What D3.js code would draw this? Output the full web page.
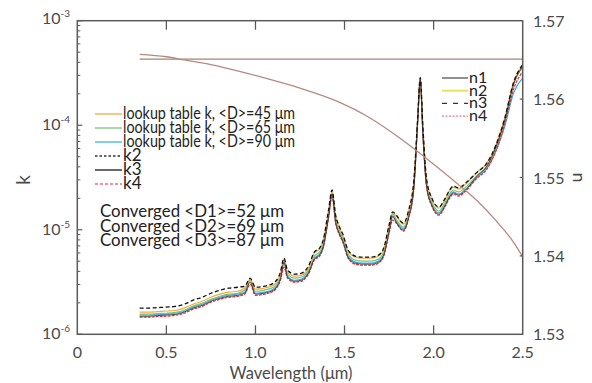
<!DOCTYPE html>
<html>
<head>
<meta charset="utf-8">
<script src="https://cdn.jsdelivr.net/npm/d3@7"></script>
<style>
  html, body { margin: 0; padding: 0; background: #fff; }
  svg { display: block; font-family: Lato, "Open Sans", sans-serif; }
</style>
</head>
<body>
<svg id="chart" width="592" height="383"></svg>
<script>
// wavelength grid of the k spectra (µm)
const wavelength = [0.35, 0.40, 0.45, 0.50, 0.55, 0.60, 0.65, 0.70, 0.75, 0.80, 0.85, 0.90,
  0.94, 0.97, 1.00, 1.05, 1.10, 1.14, 1.16, 1.18, 1.22, 1.26, 1.30,
  1.33, 1.36, 1.38, 1.41, 1.43, 1.45, 1.47, 1.49, 1.52, 1.56, 1.60, 1.65, 1.69, 1.72, 1.75, 1.77, 1.79,
  1.83, 1.86, 1.89, 1.91, 1.925, 1.94, 1.96, 1.99, 2.03, 2.06, 2.09, 2.11, 2.14, 2.18,
  2.24, 2.30, 2.35, 2.40, 2.45, 2.50];

// k values, in units of 1e-6
const kLookup45 = [1.63, 1.63, 1.65, 1.67, 1.69, 1.78, 1.94, 2.07, 2.26, 2.42, 2.53, 2.58,
  2.77, 3.36, 2.70, 2.77, 2.95, 3.76, 5.23, 3.93, 3.60, 3.68, 4.39,
  5.98, 6.53, 7.78, 15.1, 23.5, 13.5, 10.6, 8.90, 6.25, 5.48, 5.35, 5.35, 5.59, 6.53, 10.9, 14.5, 13.5,
  11.3, 15.1, 30.3, 110, 279, 93, 30.3, 19.7, 16.1, 18.9, 23.5, 25.6, 24.5, 27.4,
  35.0, 43.6, 64.9, 118, 261, 379];
const kLookup65 = [1.56, 1.56, 1.58, 1.59, 1.62, 1.70, 1.86, 1.98, 2.16, 2.31, 2.42, 2.47,
  2.65, 3.36, 2.58, 2.65, 2.82, 3.60, 5.12, 3.76, 3.44, 3.53, 4.20,
  5.60, 6.12, 7.29, 14.1, 23.0, 12.6, 9.89, 8.34, 5.85, 5.13, 5.01, 5.01, 5.24, 6.12, 10.2, 14.2, 12.6,
  10.6, 14.1, 28.4, 108, 273, 87, 28.4, 18.4, 15.1, 17.7, 22.0, 24.0, 23.0, 25.6,
  32.8, 40.8, 60.7, 113, 250, 363];
const kLookup90 = [1.53, 1.53, 1.54, 1.56, 1.59, 1.66, 1.82, 1.94, 2.12, 2.26, 2.37, 2.42,
  2.53, 3.29, 2.47, 2.53, 2.70, 3.44, 4.90, 3.60, 3.29, 3.37, 4.02,
  5.35, 5.85, 6.97, 13.5, 22.0, 12.1, 9.46, 7.97, 5.60, 4.91, 4.79, 4.79, 5.01, 5.85, 9.72, 13.3, 12.1,
  10.2, 13.5, 27.2, 106, 267, 83, 27.2, 17.6, 14.5, 16.9, 21.0, 23.0, 22.0, 24.5,
  31.4, 39.1, 56.9, 98.9, 205, 284];
const k2 = [1.78, 1.78, 1.80, 1.82, 1.85, 1.94, 2.12, 2.26, 2.47, 2.64, 2.76, 2.82,
  2.89, 3.44, 2.82, 2.89, 3.08, 3.93, 5.35, 4.11, 3.76, 3.85, 4.59,
  6.11, 6.68, 7.96, 15.4, 24.0, 13.8, 10.8, 9.10, 6.39, 5.60, 5.47, 5.47, 5.72, 6.68, 11.1, 14.8, 13.8,
  11.6, 15.4, 31, 113, 285, 95, 31, 20.1, 16.5, 19.3, 24.0, 26.2, 25.1, 28.0,
  35.0, 43.6, 64.9, 118, 261, 379];
const k3 = [1.49, 1.49, 1.51, 1.53, 1.55, 1.63, 1.78, 1.89, 2.07, 2.21, 2.31, 2.36,
  2.48, 3.15, 2.42, 2.48, 2.64, 3.37, 4.90, 3.52, 3.22, 3.30, 3.93,
  5.24, 5.72, 6.82, 13.2, 22.0, 11.8, 9.26, 7.80, 5.48, 4.80, 4.69, 4.69, 4.90, 5.72, 9.51, 13.6, 11.8,
  9.94, 13.2, 26.6, 104, 273, 81, 26.6, 17.2, 14.1, 16.5, 20.6, 22.5, 21.5, 24.0,
  32.1, 40.8, 62.1, 113, 250, 363];
const k4 = [1.46, 1.46, 1.48, 1.49, 1.52, 1.59, 1.74, 1.85, 2.03, 2.16, 2.26, 2.31,
  2.42, 3.01, 2.36, 2.42, 2.58, 3.29, 4.39, 3.44, 3.15, 3.23, 3.85,
  5.12, 5.60, 6.67, 12.9, 20.6, 11.6, 9.05, 7.63, 5.35, 4.69, 4.58, 4.58, 4.79, 5.60, 9.30, 12.4, 11.6,
  9.72, 12.9, 26.0, 104, 273, 79.6, 26.0, 16.8, 13.8, 16.2, 20.1, 22.0, 21.0, 23.5,
  30.7, 38.2, 56.9, 103, 224, 325];

// real index n
const nWave = [0.35, 0.50, 0.60, 0.75, 0.90, 1.05, 1.25, 1.45, 1.65, 1.80, 2.00, 2.15, 2.25, 2.35, 2.45, 2.50];
const nConverged = [1.5657, 1.5654, 1.5650, 1.5644, 1.5636, 1.5627, 1.5614, 1.5598, 1.5575, 1.5552,
  1.5517, 1.5489, 1.5469, 1.5445, 1.5417, 1.5399];
const nStartWave = [0.35, 2.50];
const nStart = [1.5651, 1.5651];

const xTicks = [0, 0.5, 1.0, 1.5, 2.0, 2.5];
const kDecades = [1e-6, 1e-5, 1e-4, 1e-3];
const kDecadeLabels = ['-6', '-5', '-4', '-3'];
const nTicks = [1.53, 1.54, 1.55, 1.56, 1.57];

const kLegend = ['lookup table k, <D>=45 \u03bcm', 'lookup table k, <D>=65 \u03bcm',
  'lookup table k, <D>=90 \u03bcm', 'k2', 'k3', 'k4'];
const convergedLabels = ['Converged <D1>=52 \u03bcm', 'Converged <D2>=69 \u03bcm', 'Converged <D3>=87 \u03bcm'];
const nLegend = ['n1', 'n2', 'n3', 'n4'];

const svg = d3.select('#chart');
const plotLeft = 77.3, plotRight = 522.7, plotTop = 20.7, plotBottom = 334.3;
const axisColor = '#5a5a5a';
const textColor = '#4a4a4a';

const x = d3.scaleLinear().domain([0, 2.5]).range([plotLeft, plotRight]);
const yK = d3.scaleLog().domain([1e-6, 1e-3]).range([plotBottom, plotTop]);
const yN = d3.scaleLinear().domain([1.53, 1.57]).range([plotBottom, plotTop]);

// k series styles (draw order: back to front)
const kSeries = [
  { values: kLookup90, color: '#36b3e6', width: 1.2 },
  { values: kLookup65, color: '#78c47a', width: 1.2 },
  { values: kLookup45, color: '#f2ab45', width: 1.2 },
  { values: k4, color: '#e4283c', width: 1.2, dash: '3,1' },
  { values: k3, color: '#3a3a3a', width: 0.9 },
  { values: k2, color: '#111', width: 1.3, dash: '4,2.5' }
];

const kLine = d3.line()
  .x(d => x(d[0]))
  .y(d => yK(d[1] * 1e-6))
  .curve(d3.curveMonotoneX);

kSeries.forEach(s => {
  svg.append('path')
    .datum(wavelength.map((w, i) => [w, s.values[i]]))
    .attr('d', kLine)
    .attr('fill', 'none')
    .attr('stroke', s.color)
    .attr('stroke-width', s.width)
    .attr('stroke-dasharray', s.dash || null);
});

// n curves
const nLine = d3.line()
  .x(d => x(d[0]))
  .y(d => yN(d[1]))
  .curve(d3.curveMonotoneX);

svg.append('path')
  .datum(nStartWave.map((w, i) => [w, nStart[i]]))
  .attr('d', nLine)
  .attr('fill', 'none')
  .attr('stroke', '#a68474')
  .attr('stroke-width', 1.4);

svg.append('path')
  .datum(nWave.map((w, i) => [w, nConverged[i]]))
  .attr('d', nLine)
  .attr('fill', 'none')
  .attr('stroke', '#b58a82')
  .attr('stroke-width', 1.3);

// frame
svg.append('rect')
  .attr('x', plotLeft).attr('y', plotTop)
  .attr('width', plotRight - plotLeft).attr('height', plotBottom - plotTop)
  .attr('fill', 'none')
  .attr('stroke', axisColor)
  .attr('stroke-width', 1.5);

// x ticks, inward on top and bottom
xTicks.slice(1, -1).forEach(t => {
  svg.append('line').attr('x1', x(t)).attr('x2', x(t)).attr('y1', plotBottom).attr('y2', plotBottom - 9)
    .attr('stroke', axisColor).attr('stroke-width', 1.3);
  svg.append('line').attr('x1', x(t)).attr('x2', x(t)).attr('y1', plotTop).attr('y2', plotTop + 9)
    .attr('stroke', axisColor).attr('stroke-width', 1.3);
});

svg.append('g').selectAll('text')
  .data(xTicks)
  .enter().append('text')
  .attr('x', d => x(d))
  .attr('y', 358)
  .attr('text-anchor', 'middle')
  .attr('font-size', 16)
  .attr('fill', textColor)
  .text(d => d === 0 ? '0' : d3.format('.1f')(d));

svg.append('text')
  .attr('x', 291).attr('y', 379)
  .attr('text-anchor', 'middle')
  .attr('font-size', 16.5)
  .attr('fill', textColor)
  .text('Wavelength (\u03bcm)');

// left log axis: major + minor ticks
kDecades.forEach((d, i) => {
  svg.append('line').attr('x1', plotLeft).attr('x2', plotLeft + 5).attr('y1', yK(d)).attr('y2', yK(d))
    .attr('stroke', axisColor).attr('stroke-width', 1.2);
  if (i < kDecades.length - 1) {
    for (let m = 2; m <= 9; m++) {
      svg.append('line').attr('x1', plotLeft).attr('x2', plotLeft + 3)
        .attr('y1', yK(d * m)).attr('y2', yK(d * m))
        .attr('stroke', axisColor).attr('stroke-width', 1);
    }
  }
  const lbl = svg.append('text')
    .attr('x', 70).attr('y', yK(d) + (i === 3 ? 3 : 5))
    .attr('text-anchor', 'end')
    .attr('font-size', 16)
    .attr('fill', textColor);
  lbl.append('tspan').text('10');
  lbl.append('tspan').attr('font-size', 10).attr('dy', -7).text(kDecadeLabels[i]);
});

svg.append('text')
  .attr('transform', `translate(30,${yK(3e-5)}) rotate(-90)`)
  .attr('text-anchor', 'middle')
  .attr('font-size', 19)
  .attr('fill', textColor)
  .text('k');

// right n axis
nTicks.forEach(t => {
  if (t > 1.53 && t < 1.57) {
    svg.append('line').attr('x1', plotRight).attr('x2', plotRight - 3).attr('y1', yN(t)).attr('y2', yN(t))
      .attr('stroke', axisColor).attr('stroke-width', 1.2);
  }
});
svg.append('g').selectAll('text')
  .data(nTicks)
  .enter().append('text')
  .attr('x', 533)
  .attr('y', d => yN(d) + 6)
  .attr('font-size', 16)
  .attr('fill', textColor)
  .text(d => d3.format('.2f')(d));

svg.append('text')
  .attr('transform', `translate(573,${yN(1.55)}) rotate(90)`)
  .attr('text-anchor', 'middle')
  .attr('font-size', 18)
  .attr('fill', textColor)
  .text('n');

// k legend
const kLegendStyle = [
  { color: '#f2ab45', width: 1.3 },
  { color: '#78c47a', width: 1.3 },
  { color: '#36b3e6', width: 1.3 },
  { color: '#333', width: 1.3, dash: '2.5,2' },
  { color: '#444', width: 1.6 },
  { color: '#e4283c', width: 1.2, dash: '3,2' }
];
kLegend.forEach((label, i) => {
  const yb = 119 + i * 14;
  svg.append('line').attr('x1', 95).attr('x2', 122).attr('y1', yb - 5).attr('y2', yb - 5)
    .attr('stroke', kLegendStyle[i].color)
    .attr('stroke-width', kLegendStyle[i].width)
    .attr('stroke-dasharray', kLegendStyle[i].dash || null);
  const t = svg.append('text')
    .attr('x', 123).attr('y', yb)
    .attr('font-size', 17)
    .attr('fill', '#222')
    .text(label);
  if (i < 3) t.attr('textLength', 172).attr('lengthAdjust', 'spacingAndGlyphs');
});

convergedLabels.forEach((label, i) => {
  svg.append('text')
    .attr('x', 100).attr('y', 217 + i * 14.5)
    .attr('font-size', 16.5)
    .attr('fill', '#222')
    .attr('textLength', 184)
    .attr('lengthAdjust', 'spacingAndGlyphs')
    .text(label);
});

// n legend
const nLegendStyle = [
  { color: '#222', width: 1 },
  { color: '#e8e35a', width: 2 },
  { color: '#333', width: 1.2, dash: '5,6' },
  { color: '#e27d95', width: 1.2, dash: '2,1.5' }
];
nLegend.forEach((label, i) => {
  const yb = 83 + i * 12.7;
  svg.append('line').attr('x1', 442).attr('x2', 468).attr('y1', yb - 5).attr('y2', yb - 5)
    .attr('stroke', nLegendStyle[i].color)
    .attr('stroke-width', nLegendStyle[i].width)
    .attr('stroke-dasharray', nLegendStyle[i].dash || null);
  svg.append('text')
    .attr('x', 469).attr('y', yb)
    .attr('font-size', 16)
    .attr('fill', '#222')
    .text(label);
});
</script>
</body>
</html>
